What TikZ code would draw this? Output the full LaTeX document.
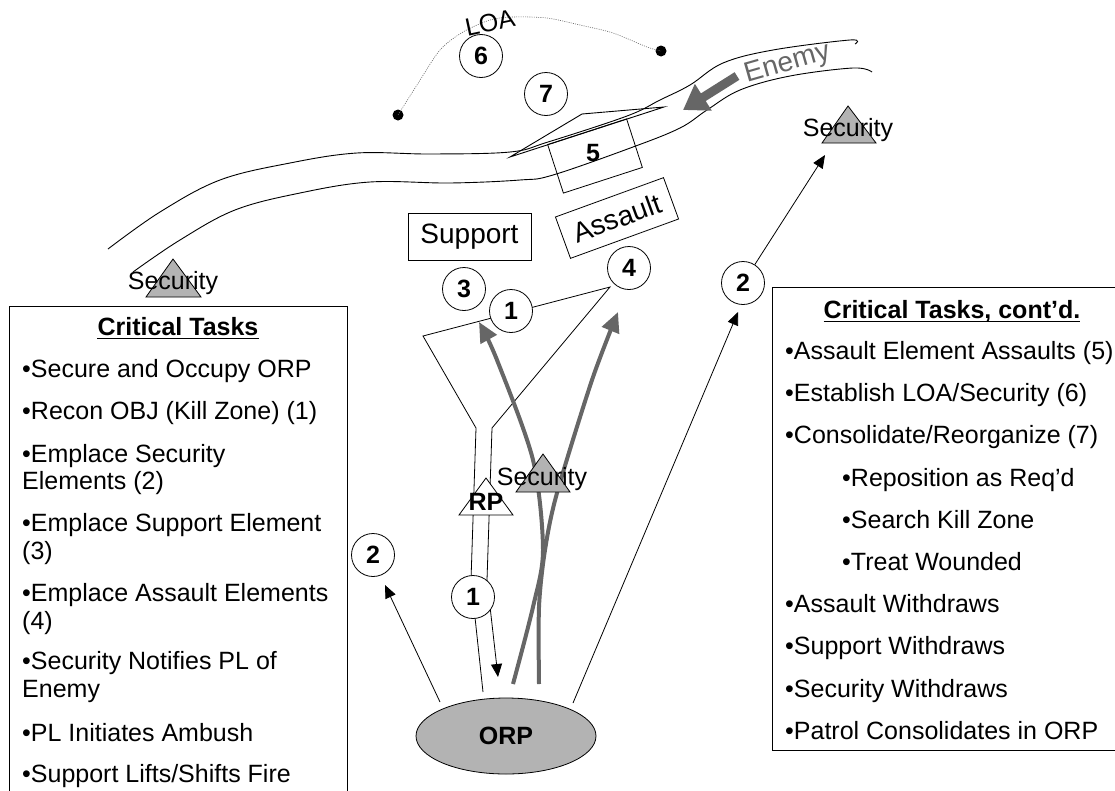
\documentclass[tikz,border=0pt]{standalone}
\usepackage{fontspec}
\setmainfont{Liberation Sans}
\usetikzlibrary{arrows.meta,shapes.geometric}
\definecolor{secgray}{RGB}{179,179,179}
\definecolor{arrgray}{RGB}{102,102,102}
\begin{document}
\begin{tikzpicture}[x=1pt,y=-1pt,
  num/.style={circle,draw,fill=white,line width=0.8pt,minimum size=43pt,inner sep=0pt,font=\bfseries\fontsize{25}{25}\selectfont},
  lbl/.style={inner sep=0pt,font=\fontsize{25}{30}\selectfont},
  biglbl/.style={font=\fontsize{28}{32}\selectfont},
  item/.style={anchor=base west,inner sep=0pt,font=\fontsize{25}{30}\selectfont},
  ttl/.style={anchor=base,inner sep=0pt,font=\bfseries\fontsize{25}{30}\selectfont},
  thinline/.style={line width=0.8pt},
  blk/.style={line width=0.8pt,-{Triangle[length=13pt,width=11pt]}},
  garr/.style={line width=4pt,arrgray,-{Triangle[length=20pt,width=18pt]}},
  road/.style={line width=0.9pt},
  tri/.style={line width=0.8pt,draw=black},
  dotnode/.style={circle,fill=black,inner sep=0pt,minimum size=11pt},
]
\useasboundingbox (0,0) rectangle (1115,790);

% road
\draw[road] plot[smooth,tension=0.6] coordinates {(108,249) (160,212) (220,180) (290,163) (357,153) (430,154) (510,152) (548,142) (627,116) (660,100) (690,85) (723,63) (773,50) (850,40) (855,44)};
\draw[road] plot[smooth,tension=0.6] coordinates {(133,272) (180,240) (235,210) (300,193) (370,182) (450,183) (520,180) (553,175) (633,147) (680,128) (707,110) (740,90) (790,76) (853,68) (872,72)};
% flag
\draw[road] (510,157) -- (582,114) -- (664,107) -- cycle;

% objective box 5
\node[draw,line width=0.8pt,rotate=18,minimum width=83pt,minimum height=51pt] (b5) at (595,156) {};
\node[lbl,font=\bfseries\fontsize{25}{25}\selectfont] (n5) at (593,153) {5};

% LOA
\node[dotnode] (d1) at (398,115) {};
\node[dotnode] (d2) at (661,51) {};
\draw[arrgray,line width=0.6pt,dash pattern=on 1pt off 1.2pt] plot[smooth] coordinates {(d1) (417,85) (440,50) (463,32) (490,20) (513,17) (547,18) (580,25) (613,33) (647,47) (d2)};
\node[lbl,rotate=12] (loa) at (490,23) {LOA};

% enemy
\draw[line width=9pt,arrgray,-{Triangle[length=24pt,width=30pt]}] (737,76) -- (683,110);
\node[biglbl,arrgray,rotate=16] (enemy) at (788,64) {Enemy};

% support & assault boxes
\node[draw,line width=0.8pt,biglbl,minimum width=123pt,minimum height=47pt,inner sep=0pt] (sup) at (469.5,236.5) {Support};
\node[draw,line width=0.8pt,biglbl,rotate=20,minimum width=115pt,minimum height=44pt,inner sep=0pt] (asl) at (617,218) {Assault};

% recon route
\coordinate (r0) at (483,692);
\coordinate (r1) at (471,580);
\coordinate (r2) at (476,428);
\coordinate (r3) at (423,336);
\coordinate (r4) at (610,287);
\coordinate (r5) at (492,428);
\coordinate (r6) at (487,580);
\coordinate (r7) at (498,677);
\draw[thinline] (r0) -- (r1) -- (r2) -- (r3) -- (r4) -- (r5) -- (r6);
\draw[blk] (r6) -- (r7);

% ORP
\node[ellipse,draw,line width=0.8pt,fill=secgray,minimum width=180pt,minimum height=76pt,font=\bfseries\fontsize{25}{25}\selectfont] (orp) at (506,736) {ORP};

% black arrows
\coordinate (o2l) at (440,702);
\coordinate (t2l) at (385,585);
\coordinate (o2r) at (573,703);
\coordinate (t2r) at (738,312);
\coordinate (tsr) at (825,155);
\draw[blk] (o2l) -- (t2l);
\draw[blk] (o2r) -- (t2r);

% gray movement arrows
\draw[garr] plot[smooth] coordinates {(513,684) (533,607) (543,550) (533,460) (497,360) (479,322)};
\draw[garr] plot[smooth] coordinates {(539,684) (539,607) (545,550) (557,493) (592,380) (618,312)};

% security triangles
\filldraw[tri,fill=secgray] (173,259) -- (201,297) -- (146,297) -- cycle;
\node[lbl] (secl) at (173,283) {Security};
\filldraw[tri,fill=secgray] (543,454) -- (570,492) -- (516,492) -- cycle;
\node[lbl] (secm) at (542,479) {Security};
\filldraw[tri,fill=secgray] (848,106) -- (876,143) -- (822,143) -- cycle;
\node[lbl] (secr) at (848,130) {Security};
% RP
\filldraw[tri,fill=white] (486,478) -- (513,515) -- (459,515) -- cycle;
\node[lbl,font=\bfseries\fontsize{25}{25}\selectfont] (rp) at (486,502) {RP};

% numbered circles
\node[num] (c6) at (481,56) {6};
\node[num] (c7) at (546,94) {7};
\node[num] (c3) at (464,289) {3};
\node[num] (c1a) at (511,311) {1};
\node[num] (c4) at (629,268) {4};
\node[num] (c2r) at (743,283) {2};
\node[num] (c2l) at (373,555) {2};
\node[num] (c1b) at (473,597) {1};
\draw[blk] (c2r) -- (tsr);

% left task box
\draw[line width=1pt] (9,800) -- (9,306) -- (347,306) -- (347,800);
\node[ttl] (lt) at (178,335) {Critical Tasks};
\draw[line width=1.8pt] ([yshift=-3.5pt]lt.base west) -- ([yshift=-3.5pt]lt.base east);
\node[item] (l1) at (22,377) {•Secure and Occupy ORP};
\node[item] (l2) at (22,419) {•Recon OBJ (Kill Zone) (1)};
\node[item] (l3) at (22,462) {•Emplace Security};
\node[item] (l3b) at (22,489) {Elements (2)};
\node[item] (l4) at (22,531) {•Emplace Support Element};
\node[item] (l4b) at (22,559) {(3)};
\node[item] (l5) at (22,601) {•Emplace Assault Elements};
\node[item] (l5b) at (22,629) {(4)};
\node[item] (l6) at (22,669) {•Security Notifies PL of};
\node[item] (l6b) at (22,697) {Enemy};
\node[item] (l7) at (22,741) {•PL Initiates Ambush};
\node[item] (l8) at (22,782) {•Support Lifts/Shifts Fire};

% right task box
\draw[line width=1pt] (1125,287) -- (772,287) -- (772,750) -- (1125,750);
\node[ttl] (rt) at (952,318) {Critical Tasks, cont’d.};
\draw[line width=1.8pt] ([yshift=-3.5pt]rt.base west) -- ([yshift=-3.5pt]rt.base east);
\node[item] (q1) at (785,359) {•Assault Element Assaults (5)};
\node[item] (q2) at (785,401) {•Establish LOA/Security (6)};
\node[item] (q3) at (785,443) {•Consolidate/Reorganize (7)};
\node[item] (q4) at (842,486) {•Reposition as Req’d};
\node[item] (q5) at (842,528) {•Search Kill Zone};
\node[item] (q6) at (842,570) {•Treat Wounded};
\node[item] (q7) at (785,612) {•Assault Withdraws};
\node[item] (q8) at (785,654) {•Support Withdraws};
\node[item] (q9) at (785,697) {•Security Withdraws};
\node[item] (q10) at (785,739) {•Patrol Consolidates in ORP};
\end{tikzpicture}
\end{document}
